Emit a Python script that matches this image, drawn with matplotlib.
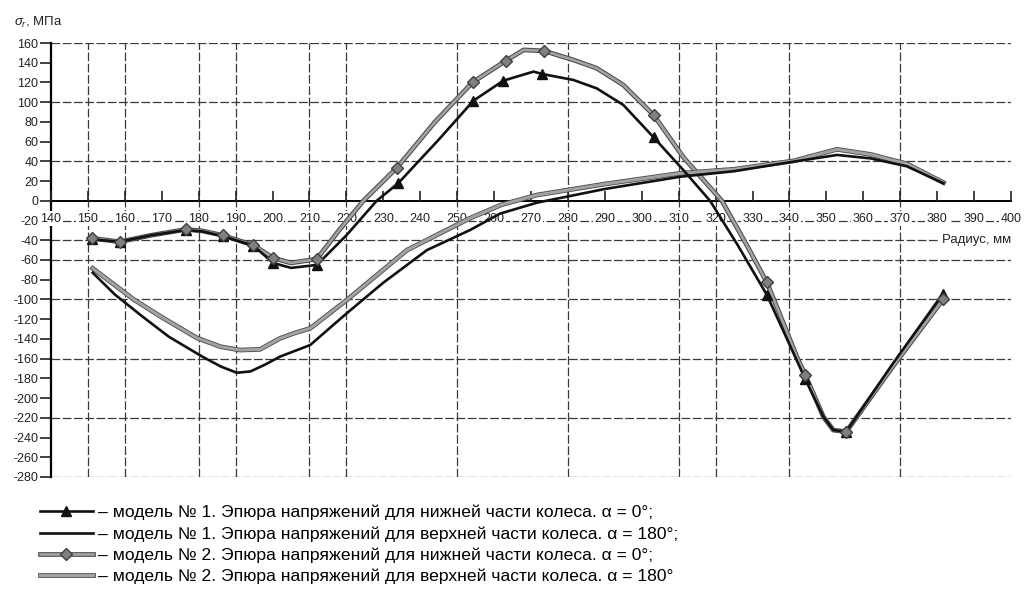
import numpy as np
import matplotlib
matplotlib.use("Agg")
import matplotlib.pyplot as plt
import matplotlib.patheffects as pe
from matplotlib.lines import Line2D

plt.rcParams['font.family'] = ['Liberation Sans', 'DejaVu Sans']
plt.rcParams['mathtext.fontset'] = 'custom'
plt.rcParams['mathtext.rm'] = 'Liberation Sans'
plt.rcParams['mathtext.it'] = 'Liberation Sans:italic'

# ---------------- data ----------------
# model 1, lower part (alpha = 0), curve and triangle markers
r1_low = [151, 158.7, 167, 176.5, 181, 186.5, 194.8, 200.2, 205, 212, 220, 228.2, 234, 245,
          254.4, 262.5, 270.7, 273, 281.5, 287.8, 295, 303.2, 311.3, 318.5, 326, 333.9, 342,
          344.3, 349.2, 351.9, 355.4, 368, 381.6]
s1_low = [-39, -41.5, -35, -29.6, -31, -35.7, -45.5, -63, -68, -65, -35, 0, 17.7, 62,
          101.5, 121.8, 131, 128.6, 122.5, 114, 97.2, 64.4, 31, 0, -45, -95.5, -162,
          -181, -219, -232.5, -234, -165, -94]
m1_r = [151, 158.7, 176.5, 186.5, 194.8, 200.2, 212, 234, 254.4, 262.5, 273, 303.2, 333.9, 344.3, 355.4, 381.6]
m1_s = [-39, -41.5, -29.6, -35.7, -45.5, -63, -65, 17.7, 101.5, 121.8, 128.6, 64.4, -95.5, -181, -234, -94]

# model 1, upper part (alpha = 180)
r1_up = [151.3, 157.3, 165, 172, 181, 186, 190.3, 194, 198, 202, 210.2, 220.1, 230, 241.8,
         253.5, 261.6, 271.6, 290, 310.4, 325, 341.1, 352.9, 362, 371.8, 381.7]
s1_up = [-72.9, -95, -118, -138, -158, -168, -174.3, -173, -166, -158, -146.2, -114, -83, -50,
         -29.6, -13, -1.9, 12, 24.4, 30, 39.7, 46.5, 43, 35, 17.7]

# model 2, lower part (alpha = 0), curve and diamond markers
r2_low = [151, 158.7, 167, 176.5, 181, 186.5, 194.8, 200.2, 205, 212, 218, 224.6, 233.7, 244,
          254.2, 263.2, 268, 273.5, 281.5, 287.8, 295, 303.2, 311.3, 321.7, 328, 333.9, 342,
          344.3, 349.2, 351.9, 355.4, 368, 381.6]
s2_low = [-38, -41.5, -35, -29, -30.5, -35, -45, -58, -63, -59, -30, 0, 33.6, 80,
          120.2, 142, 153, 152, 142.8, 134.4, 117.4, 87, 44, 0, -42, -82.7, -158,
          -176.7, -219, -232.5, -234, -168, -100]
m2_r = [151, 158.7, 176.5, 186.5, 194.8, 200.2, 212, 233.7, 254.2, 263.2, 273.5, 303.2, 333.9, 344.3, 355.4, 381.6]
m2_s = [-38, -41.5, -29, -35, -45, -58, -59, 33.6, 120.2, 142, 152, 87, -82.7, -176.7, -234, -100]

# model 2, upper part (alpha = 180)
r2_up = [151.3, 162.4, 170, 179.5, 186, 191.2, 196.6, 202, 206, 210.2, 220.1, 236.4, 253.5,
         262, 271.6, 290, 310.4, 325, 341.1, 352.9, 362, 371.8, 381.7]
s2_up = [-68.5, -100, -118, -139, -148, -151.3, -150.6, -139.5, -134, -129.3, -100.6, -50, -17.6,
         -4, 5.9, 17, 27.9, 32, 40.5, 52.2, 47, 37.5, 18.5]

x_ticks = list(range(140, 401, 10))
y_ticks = list(range(-280, 161, 20))
h_grid = [160, 100, 40, -20, -40, -60, -100, -160, -220, -280]
v_grid = [150, 160, 180, 190, 210, 220, 250, 280, 310, 320, 340, 370]

labels = [
    "– модель № 1. Эпюра напряжений для нижней части колеса. α = 0°;",
    "– модель № 1. Эпюра напряжений для верхней части колеса. α = 180°;",
    "– модель № 2. Эпюра напряжений для нижней части колеса. α = 0°;",
    "– модель № 2. Эпюра напряжений для верхней части колеса. α = 180°",
]

# ---------------- figure ----------------
W, H = 1031, 601
fig = plt.figure(figsize=(W / 100, H / 100), dpi=100)
ax = fig.add_axes([51 / W, 1 - 477 / H, (1011 - 51) / W, (477 - 43) / H])
ax.set_xlim(140, 400)
ax.set_ylim(-280, 160)

for s in ['top', 'right']:
    ax.spines[s].set_visible(False)
ax.spines['left'].set_linewidth(1.6)
ax.spines['bottom'].set_position(('data', 0))
ax.spines['bottom'].set_linewidth(1.4)

grid_kw = dict(color='#3a3a3a', lw=0.9, dashes=(7, 2), zorder=1)
for g in h_grid:
    ax.axhline(g, **grid_kw)
for g in v_grid:
    ax.axvline(g, **grid_kw)

ax.set_yticks(y_ticks)
ax.set_yticklabels([str(v) for v in y_ticks])
ax.set_xticks(x_ticks)
ax.set_xticklabels([str(v) for v in x_ticks])
ax.tick_params(axis='y', direction='out', length=8, width=1.2, pad=1, labelsize=9, colors='#222222')
ax.tick_params(axis='x', direction='in', length=7, width=1.2, pad=8.5, labelsize=9, colors='#222222')
for lbl in ax.get_xticklabels():
    lbl.set_bbox(dict(facecolor='white', edgecolor='none', pad=1.0))
ax.xaxis.set_zorder(2.6)

gray_fx = [pe.Stroke(linewidth=3.4, foreground='#4a4a4a'), pe.Normal()]
gray = '#a2a2a2'

# model 1 lower
ax.plot(r1_low, s1_low, color='#111111', lw=1.9, zorder=4)
ax.plot(m1_r, m1_s, ls='none', marker='^', ms=7, color='#111111', zorder=5)
# model 1 upper
ax.plot(r1_up, s1_up, color='#111111', lw=1.9, zorder=4)
# model 2 lower
ax.plot(r2_low, s2_low, color=gray, lw=1.9, zorder=3, path_effects=gray_fx)
ax.plot(m2_r, m2_s, ls='none', marker='D', ms=6, mfc='#808080', mec='#404040', mew=1.0, zorder=5)
# model 2 upper
ax.plot(r2_up, s2_up, color=gray, lw=2.2, zorder=3, path_effects=gray_fx)

ax.text(400, -40, "Радиус, мм", ha='right', va='center', fontsize=9.5, color='#222222',
        bbox=dict(facecolor='white', edgecolor='none', pad=1.5), zorder=2)
fig.text(14 / W, 1 - 22 / H, r"$\sigma_r$, МПа", fontsize=9.5, va='center', ha='left', color='#222222')

h_line2 = Line2D([], [], color=gray, lw=1.9, path_effects=gray_fx)
h_mark2 = Line2D([], [], ls='none', marker='D', ms=6, mfc='#808080', mec='#404040', mew=1.0)
handles = [
    Line2D([], [], color='#111111', lw=1.9, marker='^', ms=7),
    Line2D([], [], color='#111111', lw=1.9),
    (h_line2, h_mark2),
    Line2D([], [], color=gray, lw=2.2, path_effects=gray_fx),
]
fig.legend(handles, labels, loc='upper left', bbox_to_anchor=(40 / W, 1 - 505 / H),
           frameon=False, fontsize=12.6, numpoints=1, handlelength=3.0, handletextpad=0.3,
           labelspacing=0.33, borderpad=0, borderaxespad=0)

fig.savefig("out.png", dpi=100)
